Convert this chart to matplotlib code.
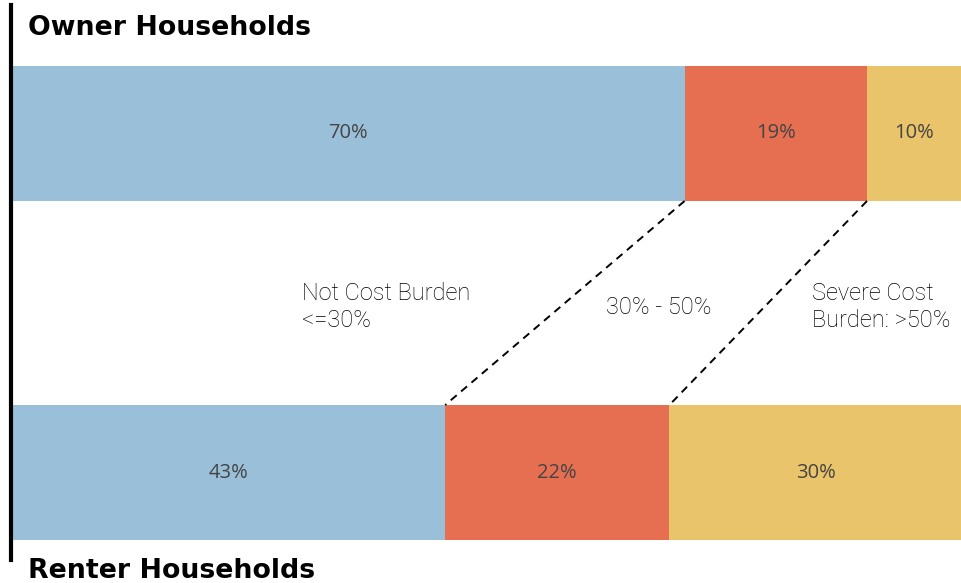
import matplotlib.pyplot as plt

groups = ['Owner Households', 'Renter Households']
categories = ['Not Cost Burden\n<=30%', '30% - 50%', 'Severe Cost\nBurden: >50%']
# printed labels
owner = [70, 19, 10]
renter = [43, 22, 30]
# bar widths (share of bar, %)
owner_share = [70.8, 19.2, 10.0]
renter_share = [45.6, 23.6, 30.8]
colors = ['#99c0d8', '#e76f51', '#e9c46a']

fig = plt.figure(figsize=(9.62, 5.83), dpi=100)
W, H = 962, 583
# axes from the bars' left edge, owner bar top to renter bar bottom
ax = fig.add_axes([12 / W, (H - 540) / H, 950 / W, (540 - 66) / H])
h = 135 / 339
ax.set_xlim(0, 100)
ax.set_ylim(-h / 2, 1 + h / 2)
ax.axis('off')

rows = {1: (owner, owner_share), 0: (renter, renter_share)}
edges = {}
for y, (labs, vals) in rows.items():
    left = 0
    e = []
    for lab, w, c in zip(labs, vals, colors):
        ax.barh(y, w, left=left, height=h, color=c, edgecolor='none')
        ax.text(left + w / 2, y, f'{lab}%', ha='center', va='center',
                fontsize=14.5, color='#444444', family='Open Sans')
        left += w
        e.append(left)
    edges[y] = e

# dashed connectors between segment boundaries
for i in range(2):
    ax.plot([edges[1][i], edges[0][i]], [1 - h / 2, h / 2],
            ls=(0, (4, 3)), color='black', lw=1.4)

# category labels placed in the gap
lab_x = [302, 606, 812]
lab_y = [307, 307, 307]
for t, x, y in zip(categories, lab_x, lab_y):
    fig.text(x / W, 1 - y / H, t, ha='left', va='center', fontsize=17,
             family='Roboto', fontweight='light', color='black', linespacing=1.22)

fig.text(28 / W, 1 - 35 / H, groups[0], ha='left', va='baseline',
         fontsize=19.3, fontweight='bold', family='DejaVu Sans')
fig.text(28 / W, 1 - 578 / H, groups[1], ha='left', va='baseline',
         fontsize=19.3, fontweight='bold', family='DejaVu Sans')

# left black rule
fig.add_artist(plt.Line2D([11 / W, 11 / W], [1 - 5 / H, 1 - 560 / H],
                          color='black', lw=3, transform=fig.transFigure))

fig.savefig('out.png', dpi=100)
